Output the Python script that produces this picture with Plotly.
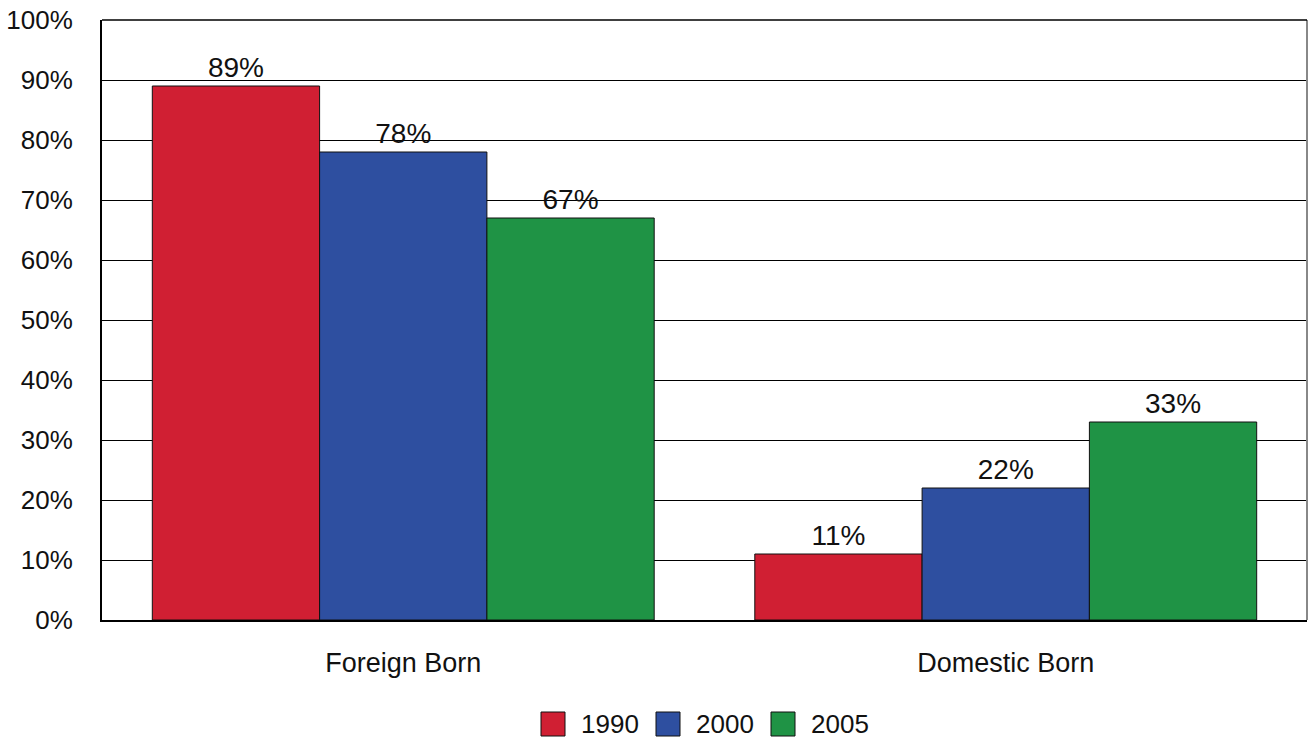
import plotly.graph_objects as go

categories = ["Foreign Born", "Domestic Born"]
years = ["1990", "2000", "2005"]
values_1990 = [89, 11]
values_2000 = [78, 22]
values_2005 = [67, 33]
colors = ["#D01F33", "#2E4FA0", "#1F9345"]
y_ticks = [0, 10, 20, 30, 40, 50, 60, 70, 80, 90, 100]
y_tick_labels = [f"{v}%" for v in y_ticks]

series = [values_1990, values_2000, values_2005]
FONT = "Liberation Sans, Arial"

fig = go.Figure()
for name, vals, col in zip(years, series, colors):
    fig.add_trace(go.Bar(
        x=categories, y=vals, name=name,
        marker=dict(color=col, line=dict(color="#111111", width=1)),
        text=[f"{v}%" for v in vals], textposition="outside",
        textfont=dict(size=28, color="#111111", family=FONT),
        cliponaxis=False, showlegend=False,
    ))

# plot area in page pixels (reference): x 102..1307, y 20..620
PX0, PW, PY0, PH = 102, 1205, 620, 600

def px_x(x):
    return (x - PX0) / PW

def px_y(y):
    return (PY0 - y) / PH

# custom legend (larger swatches like the reference)
leg_x0, leg_step, sw, leg_yc = 541, 115, 24, 724
for i, (name, col) in enumerate(zip(years, colors)):
    x0 = leg_x0 + i * leg_step
    fig.add_shape(type="rect", xref="paper", yref="paper",
                  x0=px_x(x0), x1=px_x(x0 + sw), y0=px_y(leg_yc - sw / 2), y1=px_y(leg_yc + sw / 2),
                  fillcolor=col, line=dict(color="#111111", width=1))
    fig.add_annotation(xref="paper", yref="paper", x=px_x(x0 + 38), y=px_y(leg_yc),
                       xanchor="left", yanchor="middle", text=name, showarrow=False,
                       font=dict(size=26, family=FONT, color="#111111"))

fig.update_layout(
    width=1309, height=740,
    margin=dict(l=102, r=2, t=20, b=120, autoexpand=False),
    paper_bgcolor="white", plot_bgcolor="white",
    barmode="group", bargap=0.167, bargroupgap=0,
    font=dict(family=FONT, size=26, color="#111111"),
    showlegend=False,
    uniformtext=dict(minsize=28, mode="show"),
)
fig.update_yaxes(
    range=[0, 100], tickvals=y_ticks, ticktext=y_tick_labels,
    showgrid=True, gridcolor="#000000", gridwidth=1,
    showline=True, linecolor="#000000", linewidth=2,
    ticks="", ticklabelstandoff=22, zeroline=False,
    tickfont=dict(size=26), automargin=False, ticklabeloverflow="allow",
)
fig.update_xaxes(
    showline=True, linecolor="#000000", linewidth=2,
    ticks="", ticklabelstandoff=18, tickfont=dict(size=27), automargin=False,
)
fig.add_shape(type="line", xref="paper", yref="paper", x0=1, x1=1, y0=0, y1=1,
              line=dict(color="#888888", width=2))
fig.add_shape(type="line", xref="paper", yref="paper", x0=0, x1=1, y0=1, y1=1,
              line=dict(color="#000000", width=1.5))

fig.write_html("out.html", config={"displayModeBar": False},
               post_script="document.body.style.margin='0';document.body.style.overflow='hidden';")
